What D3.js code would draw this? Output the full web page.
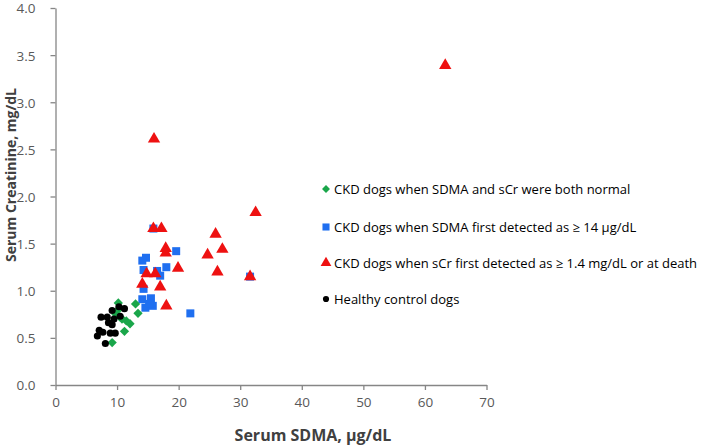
<!DOCTYPE html>
<html><head><meta charset="utf-8">
<script src="https://cdn.jsdelivr.net/npm/d3@7/dist/d3.min.js"></script>
<style>body{margin:0;background:#fff}svg{display:block}</style>
</head><body><svg id="c" width="709" height="448"></svg>
<script>
const xTicks = [0,10,20,30,40,50,60,70];
const yTicks = [0,0.5,1,1.5,2,2.5,3,3.5,4];
const seriesNames = [
  "CKD dogs when SDMA and sCr were both normal",
  "CKD dogs when SDMA first detected as \u2265 14 \u00b5g/dL",
  "CKD dogs when sCr first detected as \u2265 1.4 mg/dL or at death",
  "Healthy control dogs"
];
const seriesColors = ["#1aa64a","#1f6ff0","#ee1111","#000000"];
const greenSDMA = [9.2,11.2,12.1,11.5,10.5,10.2,10.2,13.0,13.4,9.8,10.8];
const greenCr   = [0.45,0.57,0.65,0.68,0.72,0.80,0.87,0.86,0.76,0.75,0.70];
const blueSDMA = [15.9,19.6,14.7,14.1,14.3,16.5,17.0,18.0,14.3,14.1,15.5,14.6,15.8,21.9,31.6,15.2];
const blueCr   = [1.66,1.42,1.35,1.32,1.22,1.21,1.16,1.25,1.02,0.91,0.92,0.82,0.84,0.76,1.15,0.86];
const redSDMA = [14.1,14.8,16.2,15.9,17.2,16.0,17.0,17.9,17.9,18.0,19.9,24.7,26.0,27.1,26.3,31.6,32.5,63.3];
const redCr   = [1.07,1.18,1.18,1.66,1.66,2.61,1.04,1.45,1.40,0.84,1.24,1.38,1.60,1.44,1.20,1.15,1.83,3.39];
const blackSDMA = [9.2,10.3,11.2,7.4,8.4,8.6,9.2,7.1,7.7,8.9,9.7,6.8,8.1,9.5,10.5];
const blackCr   = [0.79,0.83,0.81,0.72,0.72,0.66,0.64,0.58,0.56,0.55,0.55,0.52,0.44,0.70,0.73];

const svg = d3.select("#c");
const x = d3.scaleLinear().domain([0,70]).range([55.5,486.5]);
const y = d3.scaleLinear().domain([0,4]).range([385,8]);
const axisCol = "#868686", labCol = "#595959";

const xa = svg.append("g").attr("transform","translate(0,385)")
  .call(d3.axisBottom(x).tickValues(xTicks).tickSize(5).tickSizeOuter(0).tickFormat(d3.format("d")));
const ya = svg.append("g").attr("transform","translate(55.5,0)")
  .call(d3.axisLeft(y).tickValues(yTicks).tickSize(5).tickSizeOuter(0).tickFormat(d3.format(".1f")));
[xa,ya].forEach(a=>{
  a.selectAll("path,line").attr("stroke",axisCol).attr("stroke-width",1.3);
  a.selectAll("text").attr("fill",labCol).style("font-family","'Open Sans',sans-serif").style("font-size","13.5px");
});
xa.selectAll("text").attr("dy","1.05em");
ya.selectAll("text").attr("x",-20).attr("dy","0.36em");

svg.append("text").attr("x",313).attr("y",441).attr("text-anchor","middle")
  .attr("fill","#404040").style("font-family","'Open Sans',sans-serif").style("font-weight","bold").style("font-size","16px")
  .text("Serum SDMA, \u00b5g/dL");
svg.append("text").attr("transform","translate(16,175) rotate(-90)").attr("text-anchor","middle")
  .attr("fill","#404040").style("font-family","'Open Sans',sans-serif").style("font-weight","bold").style("font-size","14px")
  .text("Serum Creatinine, mg/dL");

const symbols = [
  d3.symbol().type(d3.symbolDiamond2).size(55),
  d3.symbol().type(d3.symbolSquare).size(64),
  d3.symbol().type(d3.symbolTriangle).size(66),
  d3.symbol().type(d3.symbolCircle).size(40)
];
const data = [
  greenSDMA.map((v,i)=>[v,greenCr[i]]),
  blueSDMA.map((v,i)=>[v,blueCr[i]]),
  redSDMA.map((v,i)=>[v,redCr[i]]),
  blackSDMA.map((v,i)=>[v,blackCr[i]])
];
const drawOrder = [1,2,0,3];
drawOrder.forEach(s=>{
  svg.append("g").selectAll("path").data(data[s]).join("path")
    .attr("d",symbols[s]())
    .attr("transform",d=>`translate(${x(d[0])},${y(d[1])})`)
    .attr("fill",seriesColors[s]);
});

const legY = [189,227,263,299];
const legSym = [
  d3.symbol().type(d3.symbolDiamond2).size(40),
  d3.symbol().type(d3.symbolSquare).size(50),
  d3.symbol().type(d3.symbolTriangle).size(50),
  d3.symbol().type(d3.symbolCircle).size(30)
];
seriesNames.forEach((n,i)=>{
  svg.append("path").attr("d",legSym[i]()).attr("transform",`translate(326,${legY[i]})`).attr("fill",seriesColors[i]);
  svg.append("text").attr("x",334).attr("y",legY[i]).attr("dy","0.35em")
    .attr("fill","#000").style("font-family","'Open Sans',sans-serif").style("font-size","13px").text(n);
});
</script></body></html>
